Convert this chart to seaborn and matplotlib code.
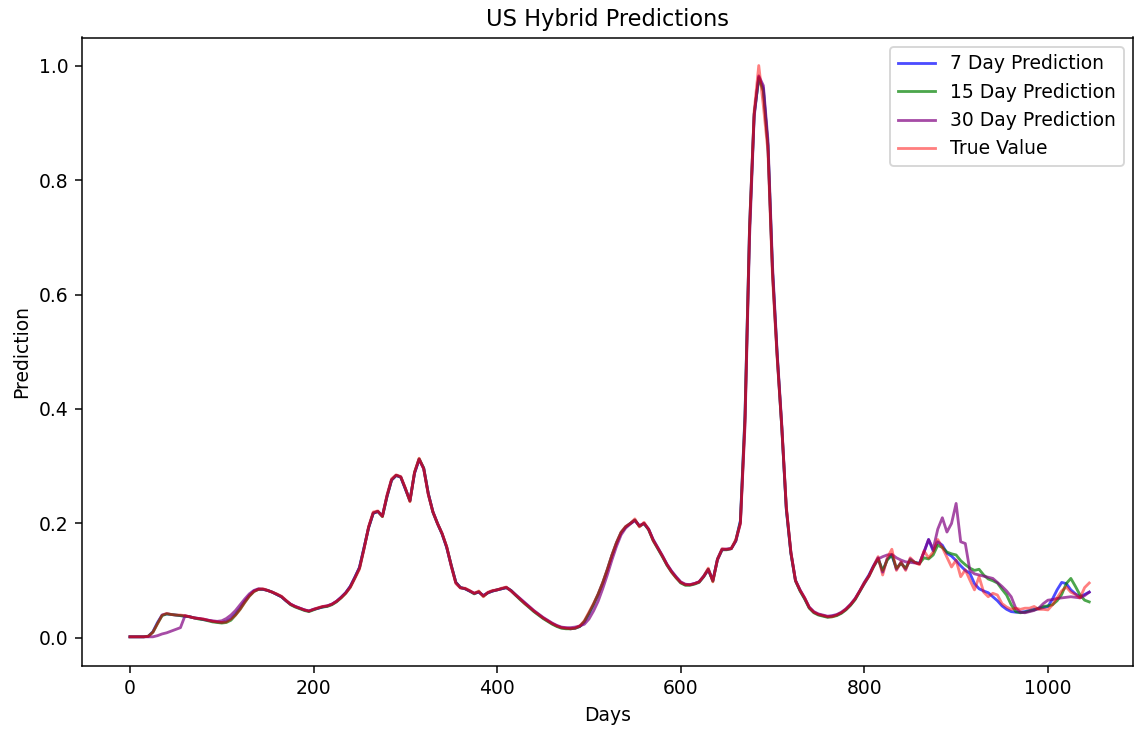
import numpy as np
import matplotlib
matplotlib.use("Agg")
import matplotlib.pyplot as plt
import seaborn as sns

# Day index of every sample (one sample every 5 days)
days = np.arange(0, 1050, 5)

true_value = [
    0.002, 0.002, 0.002, 0.002, 0.003, 0.010, 0.025, 0.040, 0.043, 0.041,
    0.040, 0.040, 0.039, 0.037, 0.035, 0.034, 0.033, 0.031, 0.029, 0.028,
    0.027, 0.028, 0.033, 0.040, 0.050, 0.062, 0.073, 0.081, 0.085, 0.086,
    0.083, 0.080, 0.077, 0.073, 0.066, 0.059, 0.055, 0.052, 0.049, 0.047,
    0.050, 0.053, 0.055, 0.056, 0.059, 0.064, 0.070, 0.078, 0.088, 0.104,
    0.120, 0.155, 0.195, 0.220, 0.222, 0.212, 0.250, 0.278, 0.285, 0.282,
    0.262, 0.238, 0.290, 0.314, 0.295, 0.250, 0.220, 0.200, 0.183, 0.160,
    0.125, 0.095, 0.087, 0.087, 0.083, 0.078, 0.082, 0.072, 0.080, 0.083,
    0.084, 0.087, 0.089, 0.082, 0.075, 0.068, 0.060, 0.054, 0.047, 0.041,
    0.035, 0.030, 0.025, 0.021, 0.018, 0.017, 0.016, 0.017, 0.021, 0.030,
    0.045, 0.060, 0.077, 0.097, 0.120, 0.145, 0.167, 0.185, 0.195, 0.200,
    0.208, 0.194, 0.202, 0.190, 0.170, 0.157, 0.143, 0.128, 0.115, 0.105,
    0.097, 0.093, 0.093, 0.095, 0.098, 0.108, 0.122, 0.098, 0.138, 0.156,
    0.155, 0.156, 0.172, 0.200, 0.380, 0.720, 0.920, 1.000, 0.930, 0.850,
    0.630, 0.490, 0.370, 0.230, 0.150, 0.100, 0.083, 0.070, 0.053, 0.045,
    0.041, 0.039, 0.037, 0.037, 0.040, 0.044, 0.050, 0.058, 0.068, 0.082,
    0.097, 0.108, 0.125, 0.142, 0.110, 0.140, 0.155, 0.118, 0.133, 0.118,
    0.140, 0.132, 0.128, 0.152, 0.140, 0.150, 0.172, 0.158, 0.141, 0.124,
    0.136, 0.107, 0.119, 0.101, 0.084, 0.107, 0.080, 0.072, 0.078, 0.075,
    0.060, 0.054, 0.050, 0.052, 0.050, 0.052, 0.052, 0.055, 0.050, 0.050,
    0.049, 0.058, 0.070, 0.082, 0.089, 0.080, 0.076, 0.070, 0.088, 0.096,
]

pred_7_day = [
    0.002, 0.002, 0.002, 0.002, 0.003, 0.011, 0.027, 0.040, 0.042, 0.041,
    0.040, 0.039, 0.038, 0.037, 0.035, 0.034, 0.032, 0.031, 0.029, 0.028,
    0.027, 0.029, 0.034, 0.042, 0.052, 0.064, 0.074, 0.082, 0.085, 0.085,
    0.083, 0.080, 0.076, 0.072, 0.065, 0.059, 0.055, 0.052, 0.049, 0.047,
    0.050, 0.052, 0.054, 0.056, 0.059, 0.064, 0.071, 0.079, 0.090, 0.106,
    0.123, 0.158, 0.193, 0.218, 0.221, 0.213, 0.248, 0.276, 0.284, 0.281,
    0.260, 0.240, 0.288, 0.312, 0.296, 0.252, 0.220, 0.200, 0.182, 0.158,
    0.126, 0.097, 0.088, 0.086, 0.082, 0.078, 0.080, 0.074, 0.079, 0.082,
    0.084, 0.086, 0.088, 0.083, 0.075, 0.068, 0.061, 0.054, 0.047, 0.041,
    0.035, 0.030, 0.025, 0.021, 0.018, 0.017, 0.016, 0.017, 0.020, 0.028,
    0.042, 0.058, 0.076, 0.096, 0.119, 0.144, 0.166, 0.184, 0.194, 0.200,
    0.206, 0.196, 0.200, 0.190, 0.171, 0.157, 0.143, 0.128, 0.116, 0.106,
    0.097, 0.093, 0.093, 0.095, 0.098, 0.108, 0.120, 0.100, 0.138, 0.155,
    0.155, 0.156, 0.170, 0.205, 0.390, 0.720, 0.915, 0.980, 0.960, 0.860,
    0.640, 0.495, 0.370, 0.225, 0.148, 0.100, 0.083, 0.069, 0.053, 0.045,
    0.041, 0.039, 0.037, 0.038, 0.040, 0.044, 0.050, 0.058, 0.068, 0.082,
    0.097, 0.110, 0.126, 0.140, 0.115, 0.138, 0.145, 0.120, 0.132, 0.120,
    0.138, 0.132, 0.130, 0.150, 0.172, 0.152, 0.168, 0.162, 0.148, 0.143,
    0.135, 0.126, 0.118, 0.113, 0.095, 0.086, 0.082, 0.079, 0.072, 0.065,
    0.056, 0.050, 0.046, 0.045, 0.045, 0.046, 0.048, 0.050, 0.051, 0.053,
    0.055, 0.068, 0.084, 0.097, 0.095, 0.084, 0.077, 0.072, 0.076, 0.080,
]

pred_15_day = [
    0.002, 0.002, 0.002, 0.002, 0.003, 0.010, 0.025, 0.039, 0.042, 0.041,
    0.040, 0.039, 0.038, 0.037, 0.035, 0.033, 0.032, 0.030, 0.028, 0.027,
    0.026, 0.027, 0.031, 0.040, 0.050, 0.062, 0.073, 0.081, 0.085, 0.085,
    0.083, 0.080, 0.076, 0.072, 0.065, 0.058, 0.054, 0.051, 0.048, 0.046,
    0.049, 0.052, 0.054, 0.055, 0.058, 0.063, 0.070, 0.078, 0.089, 0.105,
    0.122, 0.157, 0.193, 0.218, 0.221, 0.212, 0.247, 0.276, 0.284, 0.281,
    0.261, 0.239, 0.289, 0.313, 0.297, 0.252, 0.220, 0.200, 0.182, 0.159,
    0.127, 0.097, 0.088, 0.086, 0.082, 0.077, 0.081, 0.073, 0.079, 0.082,
    0.084, 0.086, 0.088, 0.083, 0.075, 0.067, 0.060, 0.053, 0.046, 0.040,
    0.034, 0.029, 0.024, 0.020, 0.017, 0.016, 0.016, 0.017, 0.020, 0.029,
    0.043, 0.059, 0.076, 0.096, 0.119, 0.144, 0.166, 0.184, 0.194, 0.200,
    0.206, 0.195, 0.200, 0.189, 0.170, 0.156, 0.142, 0.127, 0.115, 0.105,
    0.096, 0.092, 0.092, 0.094, 0.097, 0.107, 0.120, 0.099, 0.137, 0.154,
    0.154, 0.156, 0.170, 0.203, 0.385, 0.715, 0.915, 0.978, 0.955, 0.860,
    0.640, 0.495, 0.370, 0.226, 0.148, 0.100, 0.082, 0.068, 0.052, 0.044,
    0.040, 0.038, 0.036, 0.037, 0.039, 0.043, 0.049, 0.057, 0.067, 0.081,
    0.095, 0.108, 0.124, 0.138, 0.118, 0.136, 0.145, 0.122, 0.130, 0.122,
    0.136, 0.132, 0.130, 0.140, 0.138, 0.145, 0.162, 0.158, 0.150, 0.147,
    0.145, 0.135, 0.128, 0.122, 0.118, 0.120, 0.110, 0.103, 0.100, 0.096,
    0.085, 0.075, 0.058, 0.046, 0.044, 0.045, 0.047, 0.049, 0.052, 0.055,
    0.056, 0.058, 0.065, 0.076, 0.095, 0.104, 0.090, 0.075, 0.066, 0.063,
]

pred_30_day = [
    0.002, 0.002, 0.002, 0.002, 0.002, 0.002, 0.004, 0.007, 0.009, 0.012,
    0.015, 0.018, 0.039, 0.037, 0.035, 0.034, 0.033, 0.031, 0.030, 0.029,
    0.030, 0.034, 0.040, 0.048, 0.058, 0.068, 0.077, 0.083, 0.086, 0.085,
    0.083, 0.080, 0.076, 0.072, 0.065, 0.059, 0.055, 0.052, 0.049, 0.047,
    0.050, 0.052, 0.055, 0.056, 0.059, 0.064, 0.071, 0.079, 0.090, 0.106,
    0.123, 0.157, 0.193, 0.218, 0.221, 0.213, 0.247, 0.276, 0.284, 0.281,
    0.261, 0.240, 0.288, 0.312, 0.296, 0.252, 0.221, 0.200, 0.182, 0.159,
    0.127, 0.097, 0.088, 0.086, 0.082, 0.078, 0.080, 0.074, 0.079, 0.082,
    0.084, 0.086, 0.088, 0.083, 0.076, 0.069, 0.062, 0.055, 0.048, 0.042,
    0.036, 0.031, 0.026, 0.022, 0.019, 0.018, 0.018, 0.019, 0.021, 0.024,
    0.033, 0.047, 0.064, 0.086, 0.110, 0.136, 0.160, 0.180, 0.192, 0.199,
    0.205, 0.196, 0.200, 0.190, 0.172, 0.158, 0.144, 0.129, 0.117, 0.107,
    0.098, 0.094, 0.093, 0.095, 0.098, 0.107, 0.119, 0.101, 0.136, 0.154,
    0.155, 0.156, 0.169, 0.200, 0.370, 0.700, 0.910, 0.982, 0.965, 0.870,
    0.650, 0.500, 0.375, 0.228, 0.150, 0.101, 0.084, 0.070, 0.054, 0.046,
    0.042, 0.040, 0.038, 0.039, 0.041, 0.045, 0.051, 0.059, 0.069, 0.082,
    0.095, 0.108, 0.125, 0.138, 0.142, 0.145, 0.146, 0.140, 0.136, 0.133,
    0.132, 0.131, 0.130, 0.150, 0.172, 0.155, 0.190, 0.210, 0.185, 0.200,
    0.235, 0.168, 0.165, 0.118, 0.112, 0.110, 0.108, 0.106, 0.104, 0.097,
    0.090, 0.082, 0.072, 0.052, 0.045, 0.044, 0.046, 0.048, 0.052, 0.060,
    0.066, 0.067, 0.069, 0.070, 0.071, 0.072, 0.071, 0.070, 0.074, 0.080,
]

series = [
    ("7 Day Prediction", pred_7_day, "blue", 0.7),
    ("15 Day Prediction", pred_15_day, "green", 0.7),
    ("30 Day Prediction", pred_30_day, "purple", 0.7),
    ("True Value", true_value, "red", 0.5),
]

DPI = 135
fig = plt.figure(figsize=(1134 / DPI, 732 / DPI), dpi=DPI)
ax = fig.add_axes([81.5 / 1134, 66 / 732, (1133 - 81.5) / 1134, (666 - 37.5) / 732])

for name, values, color, alpha in series:
    sns.lineplot(x=days, y=values, ax=ax, color=color, alpha=alpha,
                 linewidth=1.5, label=name)

ax.set_xlim(-52.8, 1092.7)
ax.set_ylim(-0.049, 1.049)
ax.set_xticks([0, 200, 400, 600, 800, 1000])
ax.set_yticks([0.0, 0.2, 0.4, 0.6, 0.8, 1.0])
ax.set_title("US Hybrid Predictions", fontsize=12)
ax.set_xlabel("Days", fontsize=10)
ax.set_ylabel("Prediction", fontsize=10)
ax.tick_params(labelsize=10)
ax.legend(loc="upper right", fontsize=10)

fig.savefig("out.png", dpi=DPI)
